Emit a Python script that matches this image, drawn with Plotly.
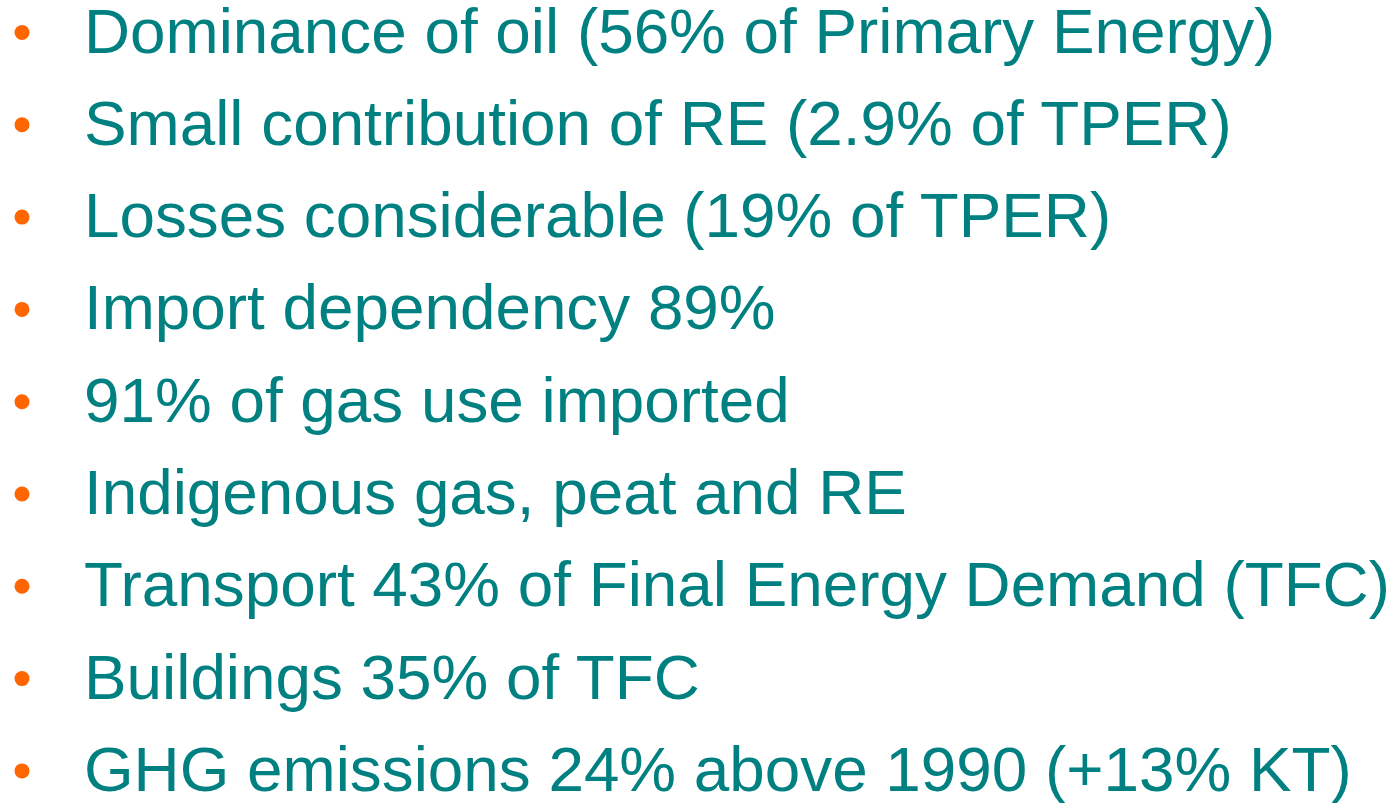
import plotly.graph_objects as go

bullets = [
    "Dominance of oil (56% of Primary Energy)",
    "Small contribution of RE (2.9% of TPER)",
    "Losses considerable (19% of TPER)",
    "Import dependency 89%",
    "91% of gas use imported",
    "Indigenous gas, peat and RE",
    "Transport 43% of Final Energy Demand (TFC)",
    "Buildings 35% of TFC",
    "GHG emissions 24% above 1990 (+13% KT)",
]
rows = list(range(len(bullets)))

TEAL = "#008080"
ORANGE = "#FF6600"
TEXT_DROP = 0.045  # small baseline adjustment so caps centre on the bullet

fig = go.Figure()
fig.add_trace(go.Scatter(
    x=[22] * len(rows), y=rows, mode="markers",
    marker=dict(color=ORANGE, size=15, line=dict(width=0)),
    hoverinfo="skip", showlegend=False, cliponaxis=False,
))
fig.add_trace(go.Scatter(
    x=[84] * len(rows), y=[r + TEXT_DROP for r in rows], mode="text", text=bullets,
    textposition="middle right",
    textfont=dict(family="Liberation Sans, Arial, sans-serif", size=63.8, color=TEAL),
    hoverinfo="skip", showlegend=False, cliponaxis=False,
))
fig.update_layout(
    width=1395, height=803,
    margin=dict(l=0, r=0, t=0, b=0),
    paper_bgcolor="white", plot_bgcolor="white",
    xaxis=dict(range=[0, 1395], visible=False, fixedrange=True),
    yaxis=dict(range=[8.348, -0.352], visible=False, fixedrange=True),
)
fig.write_html(
    "out.html",
    config={"displayModeBar": False},
    post_script="document.body.style.margin='0';document.body.style.overflow='hidden';",
)
